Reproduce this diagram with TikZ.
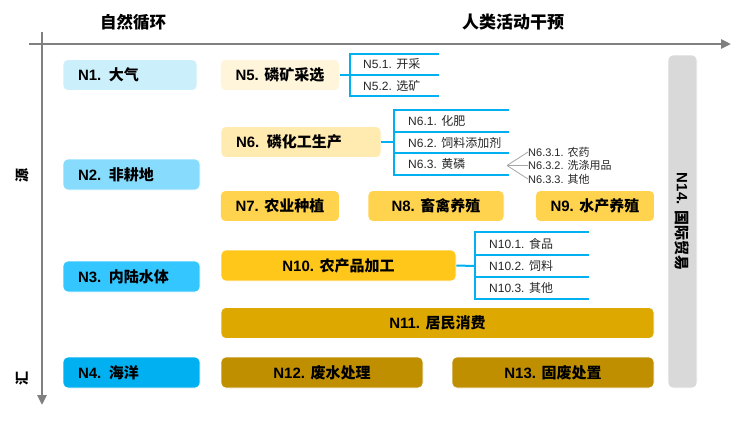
\documentclass[tikz,border=0pt]{standalone}
\usepackage{fontspec}
\setmainfont{Liberation Sans}
\newfontfamily\cjk{Noto Sans CJK SC}
\usepackage{xcolor}
\usetikzlibrary{arrows.meta, positioning, calc}

\newcommand{\zh}[1]{{\cjk #1}}

\definecolor{skyA}{HTML}{CCEFFC}
\definecolor{skyB}{HTML}{87DCFD}
\definecolor{skyC}{HTML}{33C6FF}
\definecolor{skyD}{HTML}{00B0F0}
\definecolor{ambA}{HTML}{FFF5DA}
\definecolor{ambB}{HTML}{FFEAAF}
\definecolor{ambC}{HTML}{FFD34D}
\definecolor{ambD}{HTML}{FFC71A}
\definecolor{ambE}{HTML}{DDA900}
\definecolor{ambF}{HTML}{BF8F00}
\definecolor{tradegray}{HTML}{D9D9D9}
\definecolor{axisgray}{HTML}{808080}
\definecolor{listblue}{HTML}{00B0F0}

\begin{document}
\begin{tikzpicture}[
    x=1pt, y=-1pt,
    >={Triangle[length=10pt, width=9pt]},
    every node/.style={inner sep=0pt},
    box/.style={rounded corners=5pt, draw=white, line width=0.6pt,
        minimum height=31pt, inner xsep=15pt,
        font=\bfseries\fontsize{15}{18}\selectfont},
    subitem/.style={anchor=west, text=black!85,
        font=\fontsize{12}{14}\selectfont},
    leafitem/.style={anchor=west, text=black!85,
        font=\fontsize{11}{13}\selectfont},
    listline/.style={listblue, line width=2pt},
    fanline/.style={black!35, line width=0.8pt},
    axisline/.style={axisgray, line width=2.5pt},
]
    \useasboundingbox (0,0) rectangle (752,429);

    % ── Axes ──────────────────────────────────────
    \coordinate (xs) at (29,44);
    \coordinate (xe) at (731,44);
    \coordinate (ys) at (42,32);
    \coordinate (ye) at (42,405);
    \draw[axisline, ->] (xs) -- (xe);
    \draw[axisline, ->] (ys) -- (ye);
    \node[font=\bfseries\fontsize{16.5}{18}\selectfont] (natural) at (133,22) {\zh{自然循环}};
    \node[font=\bfseries\fontsize{17}{19}\selectfont] (human) at (513,22) {\zh{人类活动干预}};
    \node[rotate=90, font=\bfseries\fontsize{14}{16}\selectfont] (source) at (22,175) {\zh{源}};
    \node[rotate=90, font=\bfseries\fontsize{14}{16}\selectfont] (sink) at (22,378) {\zh{汇}};

    % ── Natural pools ─────────────────────────────
    \node[box, fill=skyA, text width=104pt, align=left] (n1) at (130,75) {N1. \zh{大气}};
    \node[box, fill=skyB, text width=107pt, align=left] (n2) at (131.5,174.5) {N2. \zh{非耕地}};
    \node[box, fill=skyC, text width=107pt, align=left] (n3) at (131.5,276.5) {N3. \zh{内陆水体}};
    \node[box, fill=skyD, text width=107pt, align=left] (n4) at (131.5,372.5) {N4. \zh{海洋}};

    % ── Human sectors ─────────────────────────────
    \node[box, fill=ambA, minimum width=118pt] (n5) at (280,75) {N5. \zh{磷矿采选}};
    \node[box, fill=ambB, text width=130pt, align=left] (n6) at (301,142) {N6. \zh{磷化工生产}};
    \node[box, fill=ambC, minimum width=118pt] (n7) at (280,206) {N7. \zh{农业种植}};
    \node[box, fill=ambC, minimum width=136pt] (n8) at (436,206) {N8. \zh{畜禽养殖}};
    \node[box, fill=ambC, minimum width=118pt] (n9) at (595,206) {N9. \zh{水产养殖}};
    \node[box, fill=ambD, minimum width=235pt] (n10) at (338.5,265.5) {N10. \zh{农产品加工}};
    \node[box, fill=ambE, minimum width=433pt] (n11) at (437.5,323) {N11. \zh{居民消费}};
    \node[box, fill=ambF, minimum width=202pt] (n12) at (322,372.5) {N12. \zh{废水处理}};
    \node[box, fill=ambF, minimum width=202pt] (n13) at (553,372.5) {N13. \zh{固废处置}};
    \node[box, fill=tradegray, minimum height=29pt, minimum width=333pt, inner xsep=0pt,
          rotate=-90] (n14) at (682.5,221.5) {N14. \zh{国际贸易}};

    % ── N5 branches ───────────────────────────────
    \coordinate (b5) at (350,75);
    \draw[listline] (n5.east) -- (b5);
    \draw[listline] (439,54) -| (350,96) -- (439,96);
    \draw[listline] (b5) -- (439,75);
    \node[subitem] (n51) at (363,64.5) {N5.1. \zh{开采}};
    \node[subitem] (n52) at (363,85.5) {N5.2. \zh{选矿}};

    % ── N6 branches ───────────────────────────────
    \coordinate (b6) at (394,142);
    \draw[listline] (n6.east) -- (b6);
    \draw[listline] (509,110) -| (394,175) -- (509,175);
    \foreach \y in {132,153}
        \draw[listline] (394,\y) -- (509,\y);
    \node[subitem] (n61) at (408,121) {N6.1. \zh{化肥}};
    \node[subitem] (n62) at (408,142.5) {N6.2. \zh{饲料添加剂}};
    \node[subitem] (n63) at (408,164) {N6.3. \zh{黄磷}};

    % ── N6.3 fan ──────────────────────────────────
    \coordinate (f63) at (507,165.5);
    \node[leafitem] (n631) at (528,152) {N6.3.1. \zh{农药}};
    \node[leafitem] (n632) at (528,165.5) {N6.3.2. \zh{洗涤用品}};
    \node[leafitem] (n633) at (528,179) {N6.3.3. \zh{其他}};
    \foreach \leaf in {n631,n632,n633}
        \draw[fanline] (f63) -- (\leaf.west);

    % ── N10 branches ──────────────────────────────
    \coordinate (b10) at (475,266);
    \draw[listline] (n10.east) -- (b10);
    \draw[listline] (589,232) -| (475,299) -- (589,299);
    \foreach \y in {255,277}
        \draw[listline] (475,\y) -- (589,\y);
    \node[subitem] (n101) at (489,243.5) {N10.1. \zh{食品}};
    \node[subitem] (n102) at (489,266) {N10.2. \zh{饲料}};
    \node[subitem] (n103) at (489,288) {N10.3. \zh{其他}};
\end{tikzpicture}
\end{document}
